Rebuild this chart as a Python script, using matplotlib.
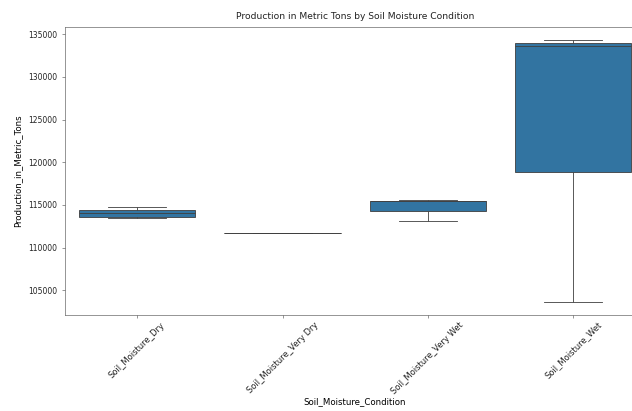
import numpy as np
import pandas as pd
import seaborn as sns
import matplotlib
matplotlib.use("Agg")
import matplotlib.pyplot as plt

dry = [113450, 113600, 114000, 114410, 114810]
very_dry = [111670, 111670, 111670]
very_wet = [113140, 114270, 115450, 115510, 115630]
wet = [103650, 118830, 133650, 134000, 134300]

categories = ["Soil_Moisture_Dry", "Soil_Moisture_Very Dry",
              "Soil_Moisture_Very Wet", "Soil_Moisture_Wet"]
groups = [dry, very_dry, very_wet, wet]

df = pd.DataFrame({
    "Soil_Moisture_Condition": [c for c, g in zip(categories, groups) for _ in g],
    "Production_in_Metric_Tons": [v for g in groups for v in g],
})

scale = 0.55
plt.rcParams.update({
    "font.size": 10 * scale,
    "axes.linewidth": 0.8 * scale,
    "axes.edgecolor": "#555555",
    "xtick.major.size": 3.5 * scale,
    "ytick.major.size": 3.5 * scale,
    "xtick.major.width": 0.8 * scale,
    "ytick.major.width": 0.8 * scale,
    "xtick.major.pad": 2.0,
    "xtick.color": "#555555",
    "ytick.color": "#555555",
    "text.color": "#222222",
    "xtick.labelcolor": "#222222",
    "ytick.labelcolor": "#222222",
})

fig = plt.figure(figsize=(6.32, 4.11), dpi=100)
ax = fig.add_axes([0.1024, 0.234, 0.919, 0.700])

sns.boxplot(data=df, x="Soil_Moisture_Condition", y="Production_in_Metric_Tons",
            order=categories, ax=ax, linewidth=1.1 * scale)

ax.set_title("Production in Metric Tons by Soil Moisture Condition", fontsize=6.6)
ax.set_xlabel("Soil_Moisture_Condition", fontsize=6.2, labelpad=1)
ax.set_ylabel("Production_in_Metric_Tons", fontsize=6.2)
ax.tick_params(axis="y", labelsize=5.5)
ax.tick_params(axis="x", labelsize=6.0)
plt.setp(ax.get_xticklabels(), rotation=45)

fig.savefig("out.png", dpi=100)
